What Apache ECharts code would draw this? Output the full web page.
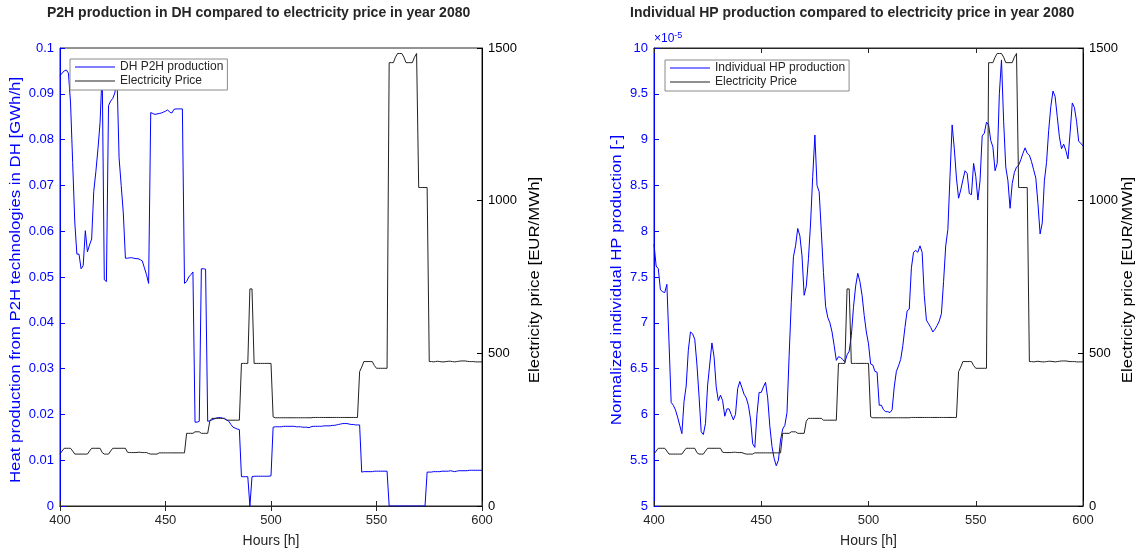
<!DOCTYPE html>
<html>
<head>
<meta charset="utf-8">
<script src="https://cdn.jsdelivr.net/npm/echarts@6/dist/echarts.min.js"></script>
<style>
html,body{margin:0;padding:0;background:#fff;}
#chart{width:1145px;height:553px;}
</style>
</head>
<body>
<div id="chart"></div>
<script>
// Hour axis tick labels
const xTicks = [400, 450, 500, 550, 600];
const hourStart = 400;

// Electricity price [EUR/MWh], hourly 400..600
const price = [
170,180,189,189,189,189,180,170,170,170,
170,170,170,170,180,189,189,189,189,189,
175,170,170,170,180,189,189,189,189,189,
189,189,176,175,175,175,175,176,176,175,
175,175,172,170,170,170,170,174,174,174,
174,174,174,174,174,174,174,174,174,174,
238,238,238,238,243,243,243,238,238,238,
238,278,287,287,287,287,287,287,287,281,
281,281,281,281,281,281,467,467,467,467,
711,711,467,467,467,467,467,467,467,467,
467,292,289,289,289,289,289,289,289,289,
289,289,289,289,289,289,289,289,289,289,
290,290,290,290,290,290,290,290,290,290,
290,290,290,290,290,290,290,290,290,290,
290,290,440,455,473,473,473,473,473,460,
451,451,451,451,451,451,1452,1452,1452,1470,
1482,1482,1482,1470,1452,1452,1452,1452,1470,1482,
1043,1043,1043,1043,1043,473,473,472,473,474,
473,472,472,473,474,474,473,472,473,474,
475,475,475,474,473,473,473,472,472,472,
472
];

// DH P2H production [GWh/h], hourly 400..600
const dhP2H = [
0.094,0.0945,0.095,0.0952,0.0945,0.088,0.075,0.062,0.055,0.055,
0.0518,0.0525,0.0601,0.0555,0.057,0.0583,0.0687,0.073,0.078,0.0838,
0.095,0.0494,0.049,0.0874,0.0884,0.089,0.0902,0.094,0.076,0.07,
0.064,0.0541,0.0541,0.0542,0.0542,0.0541,0.054,0.054,0.0538,0.0535,
0.052,0.0505,0.0486,0.0859,0.0857,0.0855,0.0856,0.0857,0.0858,0.086,
0.0862,0.0865,0.086,0.0858,0.0866,0.0867,0.0867,0.0867,0.0867,0.0486,
0.049,0.05,0.0505,0.0511,0.0183,0.0183,0.0185,0.0518,0.0518,0.0517,
0.0185,0.0186,0.0188,0.019,0.0192,0.0193,0.0193,0.0192,0.019,0.0188,
0.0185,0.0178,0.0172,0.017,0.0168,0.0167,0.0064,0.0064,0.0064,0.0064,
0,0.0064,0.0065,0.0065,0.0065,0.0065,0.0065,0.0065,0.0065,0.0065,
0.0066,0.0172,0.0173,0.0173,0.0173,0.0173,0.0174,0.0174,0.0174,0.0174,
0.0174,0.0174,0.0173,0.0173,0.0173,0.0172,0.0172,0.0172,0.0171,0.0173,
0.0174,0.0174,0.0174,0.0174,0.0174,0.0175,0.0175,0.0175,0.0175,0.0176,
0.0176,0.0177,0.0178,0.0179,0.018,0.018,0.018,0.0179,0.0178,0.0178,
0.0177,0.0177,0.0177,0.0074,0.0075,0.0075,0.0075,0.0075,0.0075,0.0076,
0.0076,0.0076,0.0076,0.0076,0.0076,0.0076,0,0,0,0,
0,0,0,0,0,0,0,0,0,0,
0,0,0,0,0.0074,0.0074,0.0074,0.0075,0.0075,0.0075,
0.0075,0.0076,0.0076,0.0076,0.0076,0.0077,0.0076,0.0075,0.0076,0.0077,
0.0077,0.0077,0.0077,0.0077,0.0078,0.0078,0.0078,0.0078,0.0078,0.0078,
0.0078
];

// Normalized individual HP production [x1e-5], hourly 400..600
const indHP = [
7.86,7.62,7.59,7.36,7.34,7.33,7.42,6.79,6.13,6.10,
6.05,5.97,5.88,5.79,6.14,6.31,6.70,6.90,6.88,6.82,
6.55,6.20,5.81,5.78,5.90,6.32,6.55,6.78,6.63,6.30,
6.15,6.21,6.15,5.98,6.06,6.06,6.00,5.94,6.00,6.28,
6.36,6.29,6.22,6.18,6.10,5.95,5.68,5.64,6.00,6.24,
6.24,6.30,6.35,6.18,5.87,5.65,5.52,5.44,5.50,5.72,
5.84,5.88,6.02,6.64,7.22,7.72,7.84,8.03,7.95,7.73,
7.30,7.40,7.70,8.09,8.60,9.05,8.50,8.43,8.00,7.55,
7.18,7.06,7.00,6.90,6.75,6.59,6.63,6.62,6.60,6.57,
6.65,6.69,6.86,7.17,7.40,7.54,7.45,7.30,7.08,6.90,
6.77,6.55,6.54,6.47,6.46,6.10,6.10,6.05,6.03,6.03,
6.02,6.05,6.30,6.47,6.53,6.60,6.75,6.95,7.13,7.15,
7.60,7.77,7.79,7.77,7.84,7.77,7.30,7.03,6.99,6.95,
6.90,6.93,6.97,7.02,7.10,7.45,7.84,8.02,8.60,9.16,
8.90,8.58,8.36,8.45,8.56,8.66,8.63,8.41,8.40,8.74,
8.60,8.34,8.55,9.04,9.07,9.19,9.16,8.99,8.92,8.66,
8.74,9.50,9.87,9.20,8.70,8.55,8.25,8.52,8.64,8.70,
8.72,8.78,8.85,8.91,8.85,8.83,8.76,8.67,8.58,8.30,
7.97,8.09,8.55,8.75,9.10,9.36,9.53,9.47,9.25,9.03,
8.90,8.95,8.88,8.79,9.08,9.40,9.35,9.20,8.98,8.96,
8.93
];

const hours = price.map((_, i) => hourStart + i);
const pairs = arr => arr.map((v, i) => [hours[i], v]);

const BLUE = '#0000ff';
const AX = '#262626';
const FONT = 'Arial, "Liberation Sans", Helvetica, sans-serif';

function xAx(gridIndex, pos, showLabels) {
  return {
    type: 'value', gridIndex, position: pos, min: xTicks[0], max: xTicks[xTicks.length-1], interval: 50,
    name: showLabels ? 'Hours [h]' : '', nameLocation: 'middle', nameGap: 28,
    nameTextStyle: {color: AX, fontSize: 14, fontFamily: FONT},
    axisLine: {show: true, lineStyle: {color: AX, width: 1}},
    axisTick: {show: true, inside: true, length: 5, lineStyle: {color: AX}},
    axisLabel: {show: showLabels, color: AX, fontSize: 13, fontFamily: FONT, margin: 8},
    splitLine: {show: false}
  };
}
function yAx(gridIndex, pos, min, max, interval, color, fmt) {
  return {
    type: 'value', gridIndex, position: pos, min, max, interval,
    axisLine: {show: true, lineStyle: {color, width: 1}},
    axisTick: {show: true, inside: true, length: 5, lineStyle: {color}},
    axisLabel: {color, fontSize: 13, fontFamily: FONT, margin: 6, formatter: fmt},
    splitLine: {show: false}
  };
}
const fmtNum = v => String(Number(v.toFixed(3)));

// rotated axis titles (slightly stretched along the text direction like the reference)
function yName(text, x, color) {
  return {type: 'text', x, y: 280, rotation: Math.PI / 2, scaleX: 1.2,
    style: {text, fill: color, fontSize: 14, fontFamily: FONT, textAlign: 'center', textVerticalAlign: 'middle'}};
}

const legendBase = {
  orient: 'vertical', backgroundColor: '#fff', borderColor: '#8a8a8a', borderWidth: 1,
  padding: [2, 4, 3, 5], itemGap: 2, itemWidth: 40, itemHeight: 1, icon: 'rect',
  textStyle: {color: AX, fontSize: 12, fontFamily: FONT}
};

const chart = echarts.init(document.getElementById('chart'));
chart.setOption({
  animation: false,
  backgroundColor: '#fff',
  grid: [
    {left: 60, right: 663, top: 48, bottom: 40, show: true, borderColor: AX, borderWidth: 1},
    {left: 654, right: 62, top: 48, bottom: 40, show: true, borderColor: AX, borderWidth: 1}
  ],
  xAxis: [xAx(0, 'bottom', true), xAx(0, 'top', false), xAx(1, 'bottom', true), xAx(1, 'top', false)],
  yAxis: [
    yAx(0, 'left', 0, 0.1, 0.01, BLUE, fmtNum),
    yAx(0, 'right', 0, 1500, 500, '#000', fmtNum),
    yAx(1, 'left', 5, 10, 0.5, BLUE, fmtNum),
    yAx(1, 'right', 0, 1500, 500, '#000', fmtNum)
  ],
  legend: [
    Object.assign({}, legendBase, {left: 70, top: 59, data: ['DH P2H production', 'Electricity Price']}),
    Object.assign({}, legendBase, {left: 665, top: 60, data: ['Individual HP production', 'Electricity Price ']})
  ],
  graphic: [
    {type: 'text', left: 47, top: 6, style: {text: 'P2H production in DH compared to electricity price in year 2080', fontSize: 14, fontWeight: 'bold', fontFamily: FONT, fill: AX}},
    {type: 'text', left: 630, top: 6, style: {text: 'Individual HP production compared to electricity price in year 2080', fontSize: 14, fontWeight: 'bold', fontFamily: FONT, fill: AX}},
    {type: 'text', left: 654, top: 31, style: {text: '×10{s|-5}', fontSize: 12, fontFamily: FONT, fill: BLUE, rich: {s: {fontSize: 9, fill: BLUE, verticalAlign: 'top', padding: [0,0,6,0]}}}},
    yName('Heat production from P2H technologies in DH [GWh/h]', 16, BLUE),
    yName('Electricity price [EUR/MWh]', 535, '#000'),
    yName('Normalized individual HP production [-]', 617, BLUE),
    yName('Electricity price [EUR/MWh]', 1128, '#000')
  ],
  series: [
    {name: 'DH P2H production', type: 'line', xAxisIndex: 0, yAxisIndex: 0, data: pairs(dhP2H), showSymbol: false, symbol: 'none', lineStyle: {color: BLUE, width: 1}, itemStyle: {color: BLUE}},
    {name: 'Electricity Price', type: 'line', xAxisIndex: 0, yAxisIndex: 1, data: pairs(price), showSymbol: false, symbol: 'none', lineStyle: {color: '#222', width: 1}, itemStyle: {color: '#222'}},
    {name: 'Individual HP production', type: 'line', xAxisIndex: 2, yAxisIndex: 2, data: pairs(indHP), showSymbol: false, symbol: 'none', lineStyle: {color: BLUE, width: 1}, itemStyle: {color: BLUE}},
    {name: 'Electricity Price ', type: 'line', xAxisIndex: 2, yAxisIndex: 3, data: pairs(price), showSymbol: false, symbol: 'none', lineStyle: {color: '#222', width: 1}, itemStyle: {color: '#222'}}
  ]
});
</script>
</body>
</html>
